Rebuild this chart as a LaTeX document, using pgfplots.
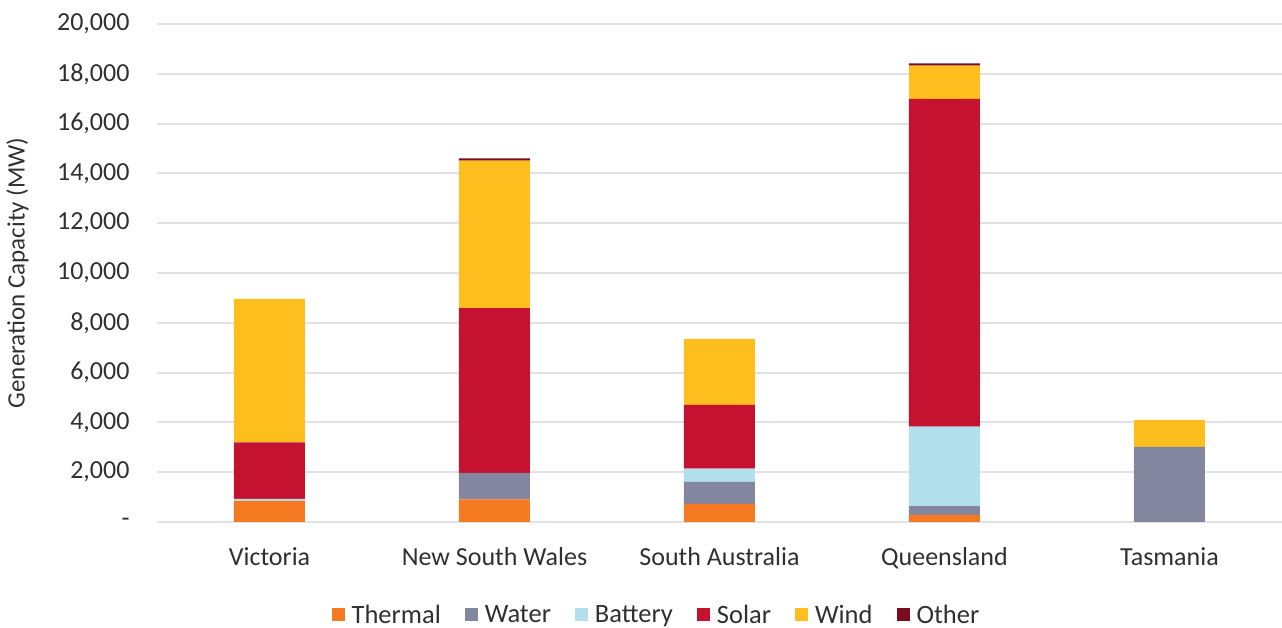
\documentclass[border=0pt]{standalone}
\usepackage{fontspec}
\setmainfont{Carlito}
\usepackage{pgfplots}
\usepackage{pgfplotstable}
\pgfplotsset{compat=1.18}
\definecolor{cThermal}{HTML}{F47920}
\definecolor{cWater}{HTML}{83869F}
\definecolor{cBattery}{HTML}{B1DFEC}
\definecolor{cSolar}{HTML}{C41230}
\definecolor{cWind}{HTML}{FDBE1E}
\definecolor{cOther}{HTML}{7A0C1E}
\definecolor{cGrid}{HTML}{E1E1E6}
\definecolor{cText}{HTML}{303030}
\pgfplotstableread{
x thermal water battery solar wind other
0 850 0 80 2270 5760 0
1 910 1060 0 6620 5920 90
2 730 880 530 2560 2650 0
3 290 350 3190 13160 1340 90
4 0 3020 0 0 1080 0
}\datatable
\begin{document}
\begin{tikzpicture}
\useasboundingbox (-157pt,-106pt) rectangle (1125pt,522pt);
\begin{axis}[
  at={(0,0)}, anchor=south west,
  scale only axis, width=1125pt, height=498pt,
  ybar stacked, bar width=71pt,
  xmin=-0.5, xmax=4.5, ymin=0, ymax=20000,
  scaled y ticks=false,
  xtick={0,1,2,3,4},
  xticklabels={Victoria,New South Wales,South Australia,Queensland,Tasmania},
  ytick={0,2000,4000,6000,8000,10000,12000,14000,16000,18000,20000},
  yticklabels={-,{2,000},{4,000},{6,000},{8,000},{10,000},{12,000},{14,000},{16,000},{18,000},{20,000}},
  axis line style={draw=none},
  major tick length=0pt,
  ymajorgrids, grid style={cGrid, line width=2pt},
  tick label style={font=\fontsize{26}{30}\selectfont, text=cText},
  yticklabel style={xshift=-24pt},
  xticklabel style={yshift=-22pt},
  ylabel={Generation Capacity (MW)},
  every axis y label/.style={at={(axis description cs:-0.124,0.5)}, rotate=90, anchor=center,
    font=\fontsize{25}{28}\selectfont, text=cText},
  legend columns=6,
  legend style={at={(rel axis cs:0.444,0)}, anchor=center, yshift=-93pt, draw=none, fill=none,
    font=\fontsize{26.5}{30}\selectfont, text=cText,
    /tikz/every odd column/.append style={column sep=5pt},
    /tikz/every even column/.append style={column sep=22pt}},
  legend image code/.code={\fill[#1] (0pt,-6.5pt) rectangle (13pt,6.5pt);},
  /pgf/number format/assume math mode=true,
]
\addplot[fill=cThermal, draw=none] table[x=x, y=thermal] {\datatable};
\addplot[fill=cWater, draw=none] table[x=x, y=water] {\datatable};
\addplot[fill=cBattery, draw=none] table[x=x, y=battery] {\datatable};
\addplot[fill=cSolar, draw=none] table[x=x, y=solar] {\datatable};
\addplot[fill=cWind, draw=none] table[x=x, y=wind] {\datatable};
\addplot[fill=cOther, draw=none] table[x=x, y=other] {\datatable};
\legend{Thermal,Water,Battery,Solar,Wind,Other}
\end{axis}
\end{tikzpicture}
\end{document}
